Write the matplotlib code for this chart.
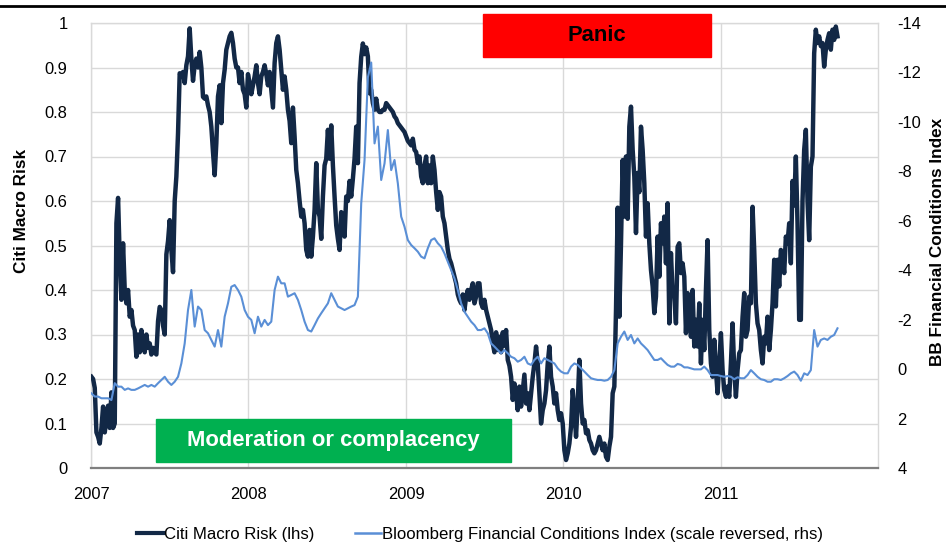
"""Citi Macro Risk vs Bloomberg Financial Conditions Index (reversed), 2007-2011."""
import datetime as dt
import matplotlib
matplotlib.use("Agg")
import matplotlib.pyplot as plt
import matplotlib.dates as mdates
from matplotlib import font_manager
from matplotlib.lines import Line2D
from matplotlib.patches import Rectangle
from matplotlib.ticker import FuncFormatter
import numpy as np
import pandas as pd

# Citi Macro Risk (lhs), sampled every ~4 days from 2 Jan 2007 to end Sep 2011
MACRO_RISK = [
    0.205, 0.20, 0.18, 0.08, 0.07, 0.055, 0.09, 0.138, 0.08, 0.11,
    0.14, 0.09, 0.17, 0.09, 0.10, 0.55, 0.607, 0.47, 0.378, 0.505,
    0.40, 0.37, 0.40, 0.34, 0.355, 0.32, 0.31, 0.25, 0.30, 0.26,
    0.31, 0.28, 0.26, 0.30, 0.27, 0.28, 0.255, 0.27, 0.26, 0.255,
    0.33, 0.362, 0.355, 0.32, 0.30, 0.48, 0.51, 0.557, 0.49, 0.44,
    0.60, 0.655, 0.752, 0.887, 0.88, 0.89, 0.865, 0.905, 0.925, 0.988,
    0.92, 0.87, 0.905, 0.92, 0.90, 0.935, 0.90, 0.834, 0.83, 0.835,
    0.815, 0.80, 0.767, 0.71, 0.658, 0.73, 0.835, 0.86, 0.775, 0.865,
    0.895, 0.94, 0.955, 0.97, 0.978, 0.955, 0.92, 0.90, 0.90, 0.865,
    0.89, 0.85, 0.84, 0.81, 0.885, 0.865, 0.84, 0.86, 0.88, 0.905,
    0.865, 0.84, 0.88, 0.89, 0.905, 0.885, 0.86, 0.89, 0.85, 0.81,
    0.91, 0.955, 0.97, 0.94, 0.895, 0.85,
    # 2008
    0.88, 0.85, 0.805, 0.78, 0.73, 0.81, 0.745, 0.67, 0.64, 0.60,
    0.565, 0.58, 0.55, 0.49, 0.475, 0.535, 0.475, 0.52, 0.58, 0.685,
    0.58, 0.565, 0.515, 0.61, 0.68, 0.695, 0.76, 0.695, 0.77, 0.68,
    0.61, 0.545, 0.515, 0.49, 0.575, 0.565, 0.52, 0.61, 0.60, 0.645,
    0.61, 0.65, 0.695, 0.767, 0.685, 0.865, 0.924, 0.954, 0.93, 0.945,
    0.925, 0.842, 0.85, 0.82, 0.805, 0.83, 0.805, 0.80, 0.80, 0.805,
    0.805, 0.82, 0.815, 0.81, 0.805, 0.80, 0.79, 0.785, 0.775, 0.77,
    0.765, 0.76, 0.755, 0.745, 0.735, 0.73, 0.725, 0.74, 0.715, 0.71,
    0.685, 0.70, 0.655, 0.64, 0.68, 0.70, 0.64, 0.68, 0.64, 0.70,
    0.67, 0.62, 0.58, 0.62, 0.61, 0.565, 0.55, 0.52, 0.49, 0.47,
    0.46, 0.445, 0.43, 0.415, 0.39, 0.378, 0.37, 0.39, 0.355, 0.385,
    0.40, 0.378, 0.40, 0.415, 0.37, 0.385, 0.415,
    # 2009 - 2010
    0.415, 0.37, 0.36, 0.378, 0.355, 0.34, 0.325, 0.31, 0.28, 0.26,
    0.305, 0.265, 0.295, 0.26, 0.305, 0.275, 0.31, 0.243, 0.23, 0.205,
    0.153, 0.19, 0.168, 0.13, 0.183, 0.138, 0.175, 0.21, 0.145, 0.168,
    0.13, 0.168, 0.205, 0.235, 0.273, 0.235, 0.168, 0.10, 0.13, 0.145,
    0.175, 0.235, 0.273, 0.205, 0.183, 0.145, 0.168, 0.13, 0.108, 0.123,
    0.10, 0.04, 0.018, 0.033, 0.055, 0.093, 0.175, 0.13, 0.07, 0.145,
    0.243, 0.145, 0.10, 0.108, 0.078, 0.085, 0.063, 0.055, 0.04, 0.033,
    0.04, 0.055, 0.07, 0.055, 0.04, 0.055, 0.025, 0.018, 0.048, 0.07,
    0.168, 0.183, 0.355, 0.585, 0.34, 0.505, 0.692, 0.565, 0.70, 0.56,
    0.767, 0.812, 0.715, 0.655, 0.528, 0.663, 0.62, 0.767, 0.715, 0.64,
    0.52, 0.595, 0.505, 0.445, 0.408, 0.348, 0.385, 0.52, 0.43, 0.55,
    0.505, 0.565, 0.46, 0.595, 0.325, 0.483, 0.393,
    # late 2010 - 2011
    0.385, 0.325, 0.497, 0.505, 0.438, 0.46, 0.43, 0.303, 0.393, 0.378,
    0.295, 0.40, 0.273, 0.333, 0.273, 0.37, 0.235, 0.333, 0.265, 0.40,
    0.512, 0.31, 0.235, 0.205, 0.288, 0.22, 0.168, 0.235, 0.303, 0.22,
    0.175, 0.16, 0.183, 0.16, 0.235, 0.325, 0.22, 0.16, 0.22, 0.258,
    0.265, 0.34, 0.393, 0.295, 0.31, 0.385, 0.37, 0.587, 0.49, 0.37,
    0.325, 0.31, 0.265, 0.235, 0.295, 0.28, 0.34, 0.265, 0.31, 0.37,
    0.468, 0.363, 0.468, 0.408, 0.49, 0.475, 0.438, 0.52, 0.505, 0.55,
    0.46, 0.645, 0.59, 0.70, 0.55, 0.333, 0.333, 0.60, 0.715, 0.76,
    0.60, 0.512, 0.677, 0.70, 0.932, 0.985, 0.955, 0.97, 0.948, 0.955,
    0.902, 0.94, 0.962, 0.977, 0.94, 0.985, 0.962, 0.992, 0.97,
]

# Bloomberg Financial Conditions Index (rhs, plotted on reversed scale), ~weekly
BFCI = [
    0.98, 1.11, 1.11, 1.18, 1.18, 1.18, 1.25, 0.57, 0.71, 0.71,
    0.84, 0.78, 0.84, 0.84, 0.78, 0.71, 0.64, 0.71, 0.64, 0.71,
    0.57, 0.44, 0.31, 0.51, 0.64, 0.51, 0.31, -0.23, -1.04, -2.39,
    -3.20, -1.72, -2.53, -2.39, -1.58, -1.45, -1.18, -0.91, -1.58, -0.91,
    -2.12, -2.66, -3.33, -3.40, -3.20, -2.93, -2.39, -2.12, -1.99, -1.45,
    -2.12, -1.72, -1.99, -1.78, -1.92, -3.20, -3.74, -3.47,
    -3.47, -2.93, -3.00, -3.07, -2.80, -2.39, -1.92, -1.58, -1.52, -1.78,
    -2.05, -2.26, -2.46, -2.66, -3.07, -2.80, -2.53, -2.46, -2.39, -2.46,
    -2.53, -2.59, -2.93, -6.70, -8.46, -11.8, -12.4, -9.13, -9.81, -7.65,
    -8.32, -9.67, -8.05, -8.46, -7.51, -6.17, -5.76, -5.22, -5.02, -4.89,
    -4.75, -4.55, -4.48, -4.89, -5.22, -5.29, -5.09, -4.95, -4.68, -4.35,
    -4.01, -3.67, -3.20, -2.66, -2.32, -2.12, -1.92, -1.78, -1.58,
    -1.58, -1.65, -1.45, -1.04, -0.91, -0.77, -0.64, -0.77, -0.64, -0.50,
    -0.44, -0.30, -0.37, -0.50, -0.23, -0.17, -0.37, -0.50, -0.23, -0.44,
    -0.37, -0.30, -0.23, -0.03, 0.10, 0.17, 0.17, -0.10, -0.23, -0.17,
    -0.03, 0.10, 0.24, 0.37, 0.41, 0.44, 0.44, 0.47, 0.44, 0.31,
    0.04, -1.04, -1.31, -1.52, -1.18, -1.38, -1.04, -1.24, -1.04, -0.91,
    -0.77, -0.57, -0.37, -0.37, -0.44, -0.30, -0.17, -0.10,
    -0.10, -0.21, -0.17, -0.07, -0.07, -0.03, 0.01, 0.01, 0.01, -0.10,
    0.04, 0.24, 0.24, 0.24, 0.28, 0.31, 0.28, 0.31, 0.41, 0.33,
    0.37, 0.37, 0.24, 0.04, 0.17, 0.31, 0.41, 0.44, 0.51, 0.51,
    0.41, 0.41, 0.44, 0.37, 0.28, 0.17, 0.10, 0.24, 0.47, 0.17,
    0.24, 0.04, -1.58, -0.91, -1.18, -1.24, -1.18, -1.31, -1.38, -1.65,
]

FIRST_DAY = "2007-01-02"
LAST_DAY = "2011-09-29"
YEARS = [2007, 2008, 2009, 2010, 2011]
LEFT_TICKS = [0, 0.1, 0.2, 0.3, 0.4, 0.5, 0.6, 0.7, 0.8, 0.9, 1]
RIGHT_TICKS = [-14, -12, -10, -8, -6, -4, -2, 0, 2, 4]

NAVY = "#122846"
BLUE = "#5a8fd6"
GRID = "#d9d9d9"


def has_font(name):
    try:
        font_manager.findfont(font_manager.FontProperties(family=name),
                              fallback_to_default=False)
        return True
    except ValueError:
        return False


# The source picture uses a narrow Arial look
if has_font("Liberation Sans Narrow"):
    FAMILY, K = "Liberation Sans Narrow", 1.0
else:
    FAMILY, K = "Liberation Sans", 0.88
plt.rcParams["font.family"] = [FAMILY, "DejaVu Sans"]
plt.rcParams["axes.unicode_minus"] = False

W, H = 946, 545
fig = plt.figure(figsize=(W / 100, H / 100), dpi=100)
ax = fig.add_axes([91 / W, 1 - 468 / H, 787 / W, 445 / H])

risk_x = mdates.date2num(pd.date_range(FIRST_DAY, LAST_DAY, periods=len(MACRO_RISK)))
bfci_x = mdates.date2num(pd.date_range(FIRST_DAY, LAST_DAY, periods=len(BFCI)))

ax.plot(risk_x, MACRO_RISK, color=NAVY, lw=3.2, solid_joinstyle="round", zorder=3)
ax.set_ylim(0, 1)
ax.set_yticks(LEFT_TICKS)
ax.yaxis.set_major_formatter(FuncFormatter(lambda v, _: f"{round(v, 1):g}"))

year_x = [mdates.date2num(dt.datetime(y, 1, 1)) for y in YEARS]
ax.set_xlim(mdates.date2num(dt.datetime(2007, 1, 1)),
            mdates.date2num(dt.datetime(2012, 1, 1)))
ax.set_xticks(year_x)
ax.set_xticklabels([str(y) for y in YEARS])

ax.grid(True, color=GRID, lw=1.0)
ax.set_axisbelow(True)
for side in ("left", "top", "right"):
    ax.spines[side].set_color(GRID)
    ax.spines[side].set_linewidth(1.0)
ax.spines["bottom"].set_color("#7f7f7f")
ax.spines["bottom"].set_linewidth(1.6)
ax.tick_params(axis="y", length=0, pad=17, labelsize=13.5 * K)
ax.tick_params(axis="x", length=0, pad=14, labelsize=13.5 * K)

ax2 = ax.twinx()
ax2.plot(bfci_x, BFCI, color=BLUE, lw=1.5)
ax2.set_ylim(4, -14)
ax2.set_yticks(RIGHT_TICKS)
ax2.tick_params(axis="y", length=0, pad=14, labelsize=13.5 * K)
for s in ax2.spines.values():
    s.set_visible(False)

fig.text(22 / W, 1 - 211 / H, "Citi Macro Risk", rotation=90, ha="center",
         va="center", fontsize=14 * K, fontweight="bold")
fig.text(937 / W, 1 - 242 / H, "BB Financial Conditions Index", rotation=90,
         ha="center", va="center", fontsize=14 * K, fontweight="bold")

# Regime boxes
fig.add_artist(Rectangle((483 / W, 1 - 57 / H), 228 / W, 43 / H,
                         transform=fig.transFigure, color="#ff0000", zorder=5))
fig.text(597 / W, 1 - 35.5 / H, "Panic", ha="center", va="center",
         fontsize=18 * K, fontweight="bold", color="black", zorder=6)
fig.add_artist(Rectangle((156 / W, 1 - 462 / H), 355 / W, 43 / H,
                         transform=fig.transFigure, color="#00b050", zorder=5))
fig.text(333.5 / W, 1 - 440.5 / H, "Moderation or complacency", ha="center",
         va="center", fontsize=18 * K, fontweight="bold", color="white", zorder=6)

# Black rule across the top
fig.add_artist(Line2D([0, 1], [1 - 6 / H] * 2, transform=fig.transFigure,
                      color="black", lw=2.0))

handles = [
    Line2D([], [], color=NAVY, lw=3.0, label="Citi Macro Risk (lhs)"),
    Line2D([], [], color=BLUE, lw=1.8,
           label="Bloomberg Financial Conditions Index (scale reversed, rhs)"),
]
fig.legend(handles=handles, loc="center", bbox_to_anchor=(480 / W, 1 - 534 / H),
           ncol=2, frameon=False, fontsize=14 * 0.86, handlelength=1.55,
           handletextpad=0.1, columnspacing=2.4)

fig.savefig("out.png", dpi=100)
